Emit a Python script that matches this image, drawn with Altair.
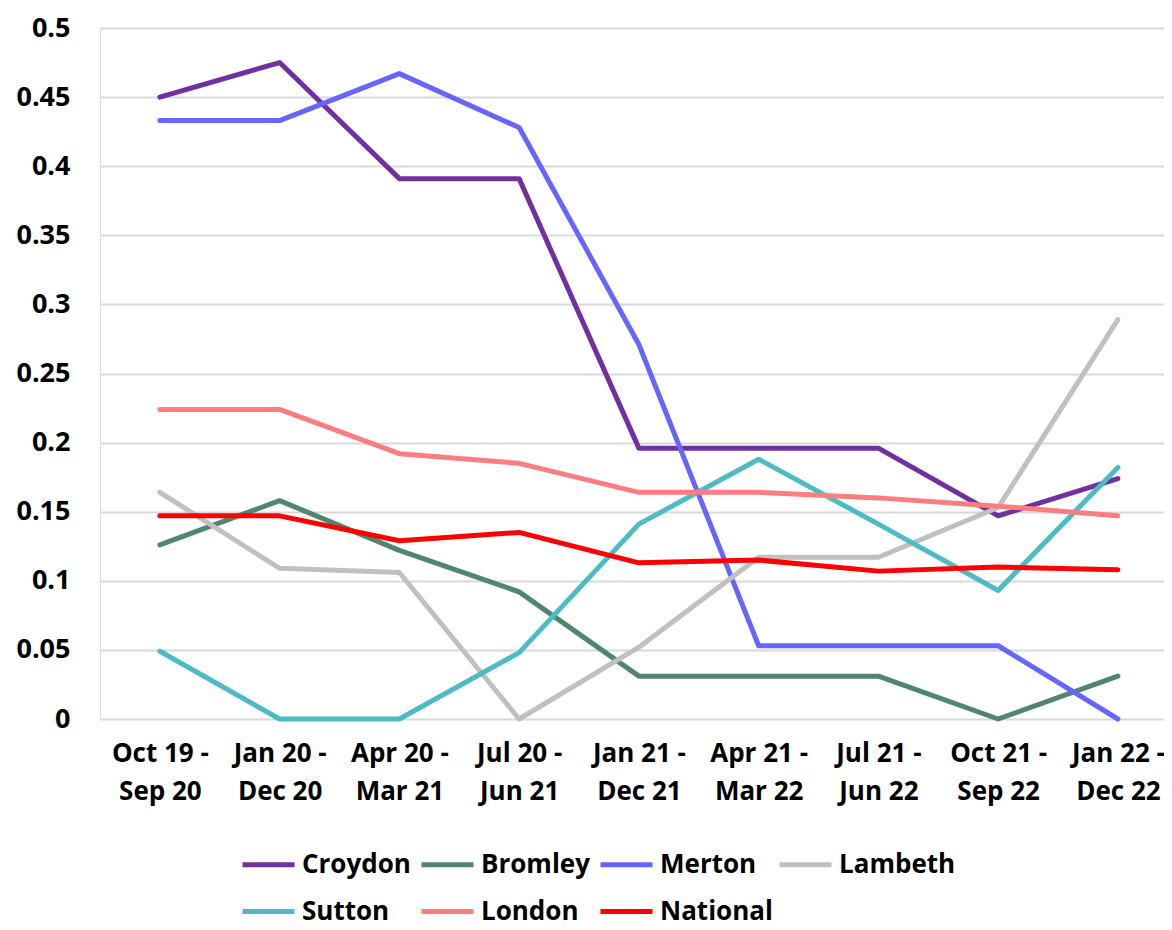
import altair as alt
import pandas as pd

periods = ["Oct 19 - Sep 20", "Jan 20 - Dec 20", "Apr 20 - Mar 21", "Jul 20 - Jun 21",
           "Jan 21 - Dec 21", "Apr 21 - Mar 22", "Jul 21 - Jun 22", "Oct 21 - Sep 22",
           "Jan 22 - Dec 22"]

series_names = ["Croydon", "Bromley", "Merton", "Lambeth", "Sutton", "London", "National"]
series_colors = ["#7030A0", "#4F876E", "#6666FF", "#C0C0C0", "#4DBBC4", "#FF7C80", "#FF0000"]

croydon = [0.450, 0.475, 0.391, 0.391, 0.196, 0.196, 0.196, 0.147, 0.174]
bromley = [0.126, 0.158, 0.122, 0.092, 0.031, 0.031, 0.031, 0.000, 0.031]
merton = [0.433, 0.433, 0.467, 0.428, 0.271, 0.053, 0.053, 0.053, 0.000]
lambeth = [0.164, 0.109, 0.106, 0.000, 0.052, 0.117, 0.117, 0.153, 0.289]
sutton = [0.049, 0.000, 0.000, 0.048, 0.141, 0.188, 0.141, 0.093, 0.182]
london = [0.224, 0.224, 0.192, 0.185, 0.164, 0.164, 0.160, 0.154, 0.147]
national = [0.147, 0.147, 0.129, 0.135, 0.113, 0.115, 0.107, 0.110, 0.108]

y_ticks = [0, 0.05, 0.1, 0.15, 0.2, 0.25, 0.3, 0.35, 0.4, 0.45, 0.5]

all_values = [croydon, bromley, merton, lambeth, sutton, london, national]
rows = []
for si, (name, vals) in enumerate(zip(series_names, all_values)):
    for pi, (p, v) in enumerate(zip(periods, vals)):
        rows.append({"period": p, "series": name, "value": v, "idx": pi})
df = pd.DataFrame(rows)

FONT = "Open Sans"
FS = 26

period_js = "[" + ",".join("'" + p + "'" for p in periods) + "]"
x_label_expr = ("[split(" + period_js + "[datum.value], ' - ')[0] + ' -', split("
                + period_js + "[datum.value], ' - ')[1]]")

chart = alt.Chart(df).mark_line(strokeWidth=5, strokeCap="round", strokeJoin="round").encode(
    x=alt.X("idx:Q",
            scale=alt.Scale(domain=[-0.5, 8.385], nice=False, zero=False),
            axis=alt.Axis(title=None, values=list(range(len(periods))), labelAngle=0,
                          ticks=False, domain=False, grid=False,
                          labelFont=FONT, labelFontSize=FS, labelFontWeight="bold",
                          labelColor="#000000", labelPadding=21, labelLineHeight=38,
                          labelBaseline="top", labelFlush=False, labelOverlap=False,
                          labelExpr=x_label_expr)),
    y=alt.Y("value:Q", scale=alt.Scale(domain=[0, 0.5], nice=False),
            axis=alt.Axis(title=None, values=y_ticks, format=".2~f", ticks=False, domain=False,
                          grid=True, gridColor="#D9D9D9", gridWidth=2,
                          labelFont=FONT, labelFontSize=27, labelFontWeight="bold",
                          labelColor="#000000", labelPadding=30)),
    color=alt.Color("series:N", sort=series_names,
                    scale=alt.Scale(domain=series_names, range=series_colors),
                    legend=alt.Legend(title=None, orient="none", legendX=140, legendY=808,
                                      direction="horizontal", columns=4,
                                      symbolType="stroke", symbolSize=2704, symbolStrokeWidth=5,
                                      labelFont=FONT, labelFontSize=26, labelFontWeight="bold",
                                      labelColor="#000000", labelOffset=5,
                                      columnPadding=-36, rowPadding=5, gridAlign="all",
                                      labelLimit=300)),
    detail="series:N",
    order="idx:Q",
).properties(
    width=1064, height=691,
    autosize=alt.AutoSizeParams(type="none"),
    padding={"left": 92, "top": 20, "right": 0, "bottom": 211},
).configure_view(stroke=None).configure(background="#FFFFFF")

chart.save("out.html", embed_options={"renderer": "svg", "actions": False})
